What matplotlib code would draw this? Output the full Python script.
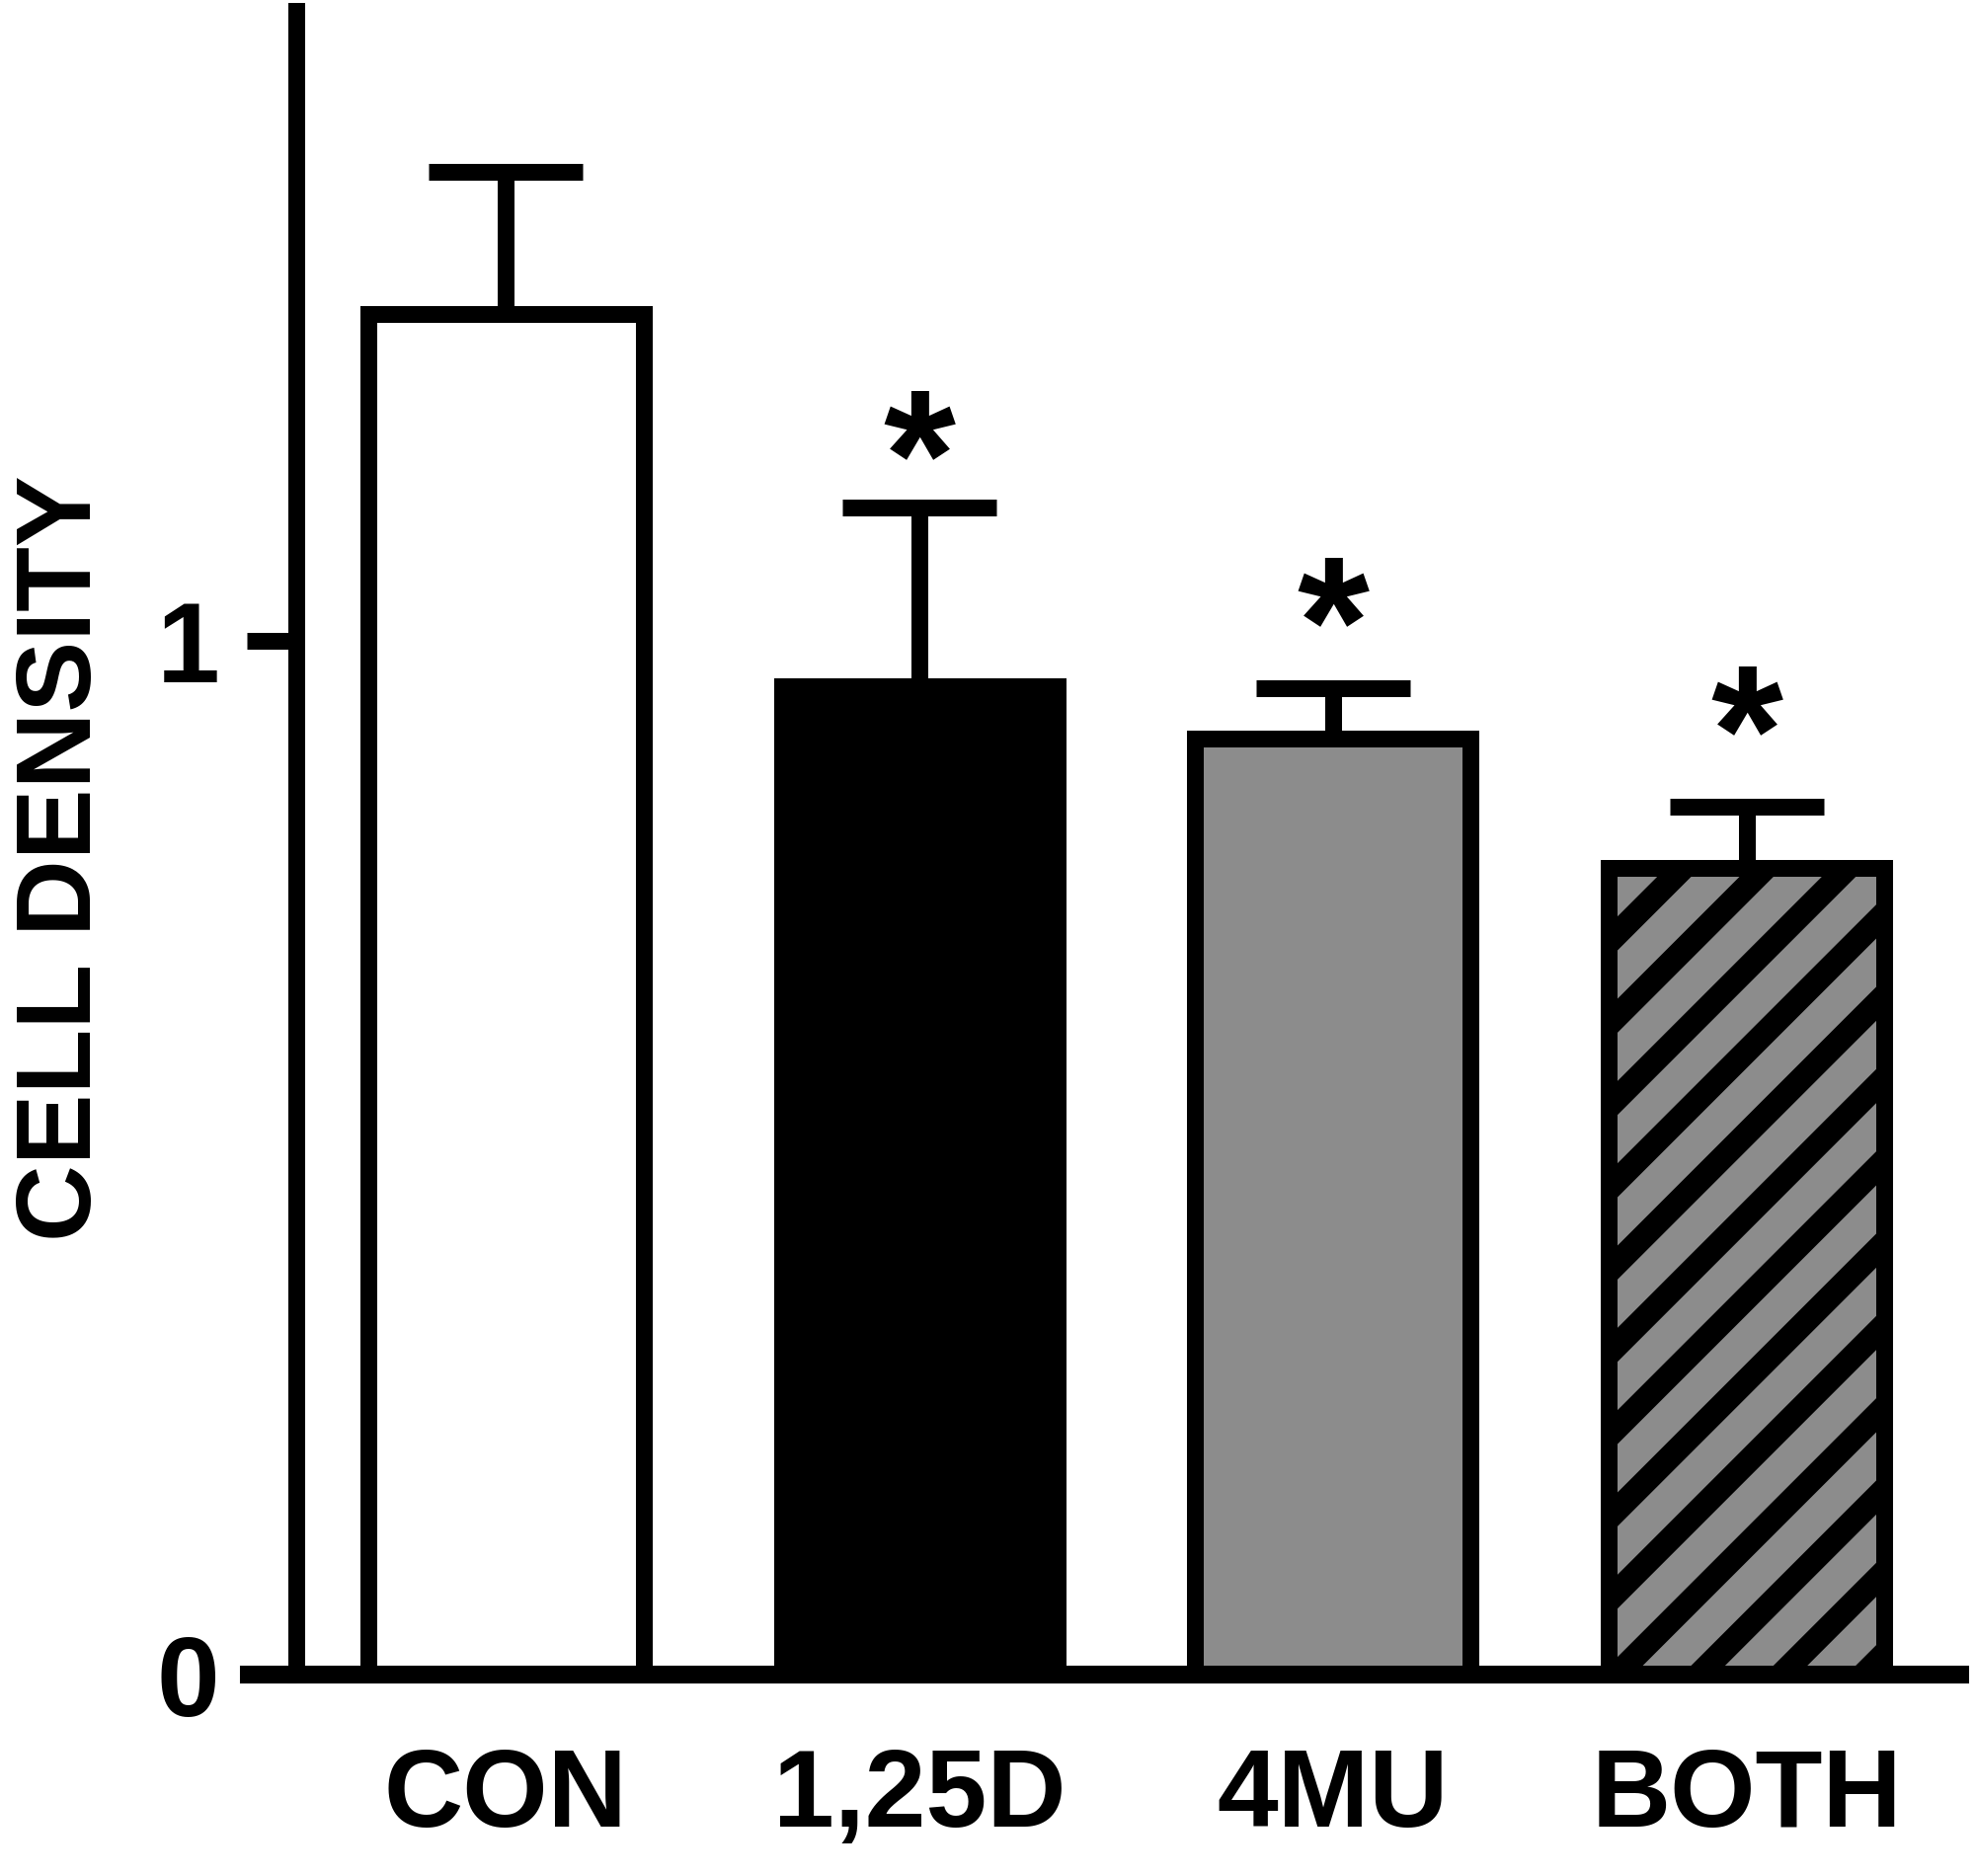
import numpy as np
import matplotlib.pyplot as plt

# ----------------------------
# data
# ----------------------------
groups = ["CON", "1,25D", "4MU", "BOTH"]
means = [1.316, 0.956, 0.905, 0.780]
errors = [0.137, 0.173, 0.049, 0.059]
fills = ["white", "black", "#8c8c8c", "#8c8c8c"]
hatches = ["", "", "", "/"]
starred = [False, True, True, True]
star_y = [0.0, 1.176, 1.015, 0.910]   # bottom of each asterisk, data units

plt.rcParams["font.family"] = ["Liberation Sans", "DejaVu Sans"]
plt.rcParams["font.weight"] = "bold"
plt.rcParams["hatch.linewidth"] = 7.0

DPI = 250
LW = 4.9          # ~17 px thick black lines
STAR_FS = 54

fig = plt.figure(figsize=(8, 7.6), dpi=DPI)
# axes box: x from px 252 to 1985, y from px 1696 (zero line) up to px 11
ax = fig.add_axes([252 / 2000, 204 / 1900, (1985 - 252) / 2000, (1696 - 11) / 1900])

x = np.arange(len(groups))
ax.bar(x, means, width=0.666, color=fills, edgecolor="black", linewidth=LW,
       hatch=hatches, zorder=2)
ax.errorbar(x, means, yerr=[np.zeros(len(errors)), errors], fmt="none",
            ecolor="black", elinewidth=LW, capsize=22.5, capthick=LW, zorder=1)

# asterisk glyph sits ~0.32 em above its baseline
for xi, sy, s in zip(x, star_y, starred):
    if s:
        ax.annotate("*", (xi, sy), xytext=(0, -0.32 * STAR_FS), textcoords="offset points",
                    ha="center", va="baseline", fontsize=STAR_FS, fontweight="bold")

ax.set_xlim(-0.621, 3.516)
ax.set_ylim(0, 1.609)

for side in ["top", "right"]:
    ax.spines[side].set_visible(False)
ax.spines["left"].set_position(("data", -0.506))
ax.spines["left"].set_linewidth(LW)
ax.spines["bottom"].set_linewidth(LW + 0.3)

ax.set_yticks([0, 1])
ax.set_yticklabels(["0", "1"])
ax.tick_params(axis="y", direction="out", length=14.4, width=LW, pad=8, labelsize=33)
ax.set_xticks(x)
ax.set_xticklabels(groups)
ax.tick_params(axis="x", length=0, pad=21, labelsize=32)
for lab in ax.get_xticklabels() + ax.get_yticklabels():
    lab.set_fontweight("bold")

fig.text(64 / 2000, 1 - 869 / 1900, "CELL DENSITY", rotation=90, ha="center",
         va="center", fontsize=31, fontweight="bold")

fig.savefig("out.png", dpi=DPI)
